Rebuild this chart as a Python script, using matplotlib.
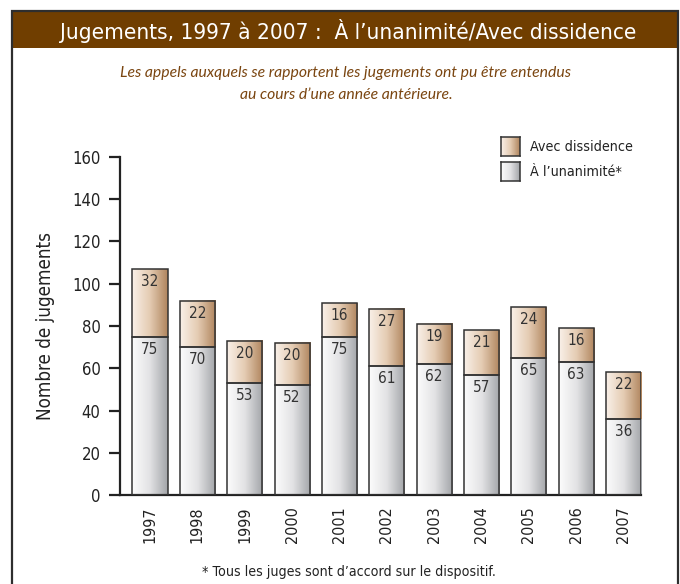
import numpy as np
import matplotlib
matplotlib.use("Agg")
import matplotlib.pyplot as plt
from matplotlib import font_manager
from matplotlib.patches import Rectangle

years = ["1997", "1998", "1999", "2000", "2001", "2002", "2003", "2004", "2005", "2006", "2007"]
unanimous = [75, 70, 53, 52, 75, 61, 62, 57, 65, 63, 36]
dissent = [32, 22, 20, 20, 16, 27, 19, 21, 24, 16, 22]
yticks = [0, 20, 40, 60, 80, 100, 120, 140, 160]

ttf = font_manager.fontManager.ttflist
names = {f.name for f in ttf}
has_cond = any(f.name == "DejaVu Sans" and f.stretch in ("condensed", 300) for f in ttf)
if "Liberation Sans Narrow" in names:
    NARROW, STRETCH = "Liberation Sans Narrow", "normal"
else:
    NARROW, STRETCH = "DejaVu Sans", ("condensed" if has_cond else "normal")
ITAL = "Lato" if "Lato" in names else "DejaVu Sans"
NF = dict(family=NARROW, fontstretch=STRETCH)

W, H = 680, 584
fig = plt.figure(figsize=(W / 100, H / 100), dpi=100)

def fx(px):
    return px / W

def fy(py):
    return 1 - py / H

# frame and header band
fig.patches.append(Rectangle((fx(12), fy(600)), fx(666), fy(11) - fy(600), transform=fig.transFigure,
                             facecolor="none", edgecolor="#2e2e2e", lw=1.6, zorder=5))
fig.patches.append(Rectangle((fx(13), fy(48)), fx(664), fy(12) - fy(48), transform=fig.transFigure,
                             facecolor="#703e00", edgecolor="none", zorder=1))

renderer = fig.canvas.get_renderer()

def fit(t, target_w):
    w = t.get_window_extent(renderer).width
    t.set_fontsize(t.get_fontsize() * target_w / w)

t = fig.text(fx(348), fy(31), "Jugements, 1997 à 2007 :  À l\u2019unanimité/Avec dissidence",
             ha="center", va="center", color="white", fontsize=17.5, **NF)
fit(t, 573)
t = fig.text(fx(346), fy(73), "Les appels auxquels se rapportent les jugements ont pu être entendus",
             ha="center", va="center", color="#7a4510", fontsize=10, family=ITAL, style="italic")
fit(t, 452)
fig.text(fx(346), fy(95), "au cours d\u2019une année antérieure.",
         ha="center", va="center", color="#7a4510", fontsize=t.get_fontsize(), family=ITAL, style="italic")
t = fig.text(fx(349), fy(572), "* Tous les juges sont d\u2019accord sur le dispositif.",
             ha="center", va="center", color="#222222", fontsize=10.5, **NF)
fit(t, 294)

ax = fig.add_axes([fx(120), fy(495), fx(641) - fx(120), fy(157) - fy(495)])
x = np.arange(len(years))
tan_cmap = matplotlib.colors.LinearSegmentedColormap.from_list("tan", ["#f9f0e8", "#e4cbb2", "#b0855e"])
gray_cmap = matplotlib.colors.LinearSegmentedColormap.from_list("gr", ["#fcfcfc", "#e2e2e4", "#a3a5a9"])
grad = np.linspace(0, 1, 64).reshape(1, -1)

b1 = ax.bar(x, unanimous, width=0.74, facecolor="none", edgecolor="#333333", lw=1.1, zorder=3)
b2 = ax.bar(x, dissent, bottom=unanimous, width=0.74, facecolor="none", edgecolor="#333333", lw=1.1, zorder=3)
for bars, cmap in ((b1, gray_cmap), (b2, tan_cmap)):
    for p in bars:
        x0, y0, w, h = p.get_x(), p.get_y(), p.get_width(), p.get_height()
        ax.imshow(grad, cmap=cmap, extent=(x0, x0 + w, y0, y0 + h), aspect="auto",
                  interpolation="bilinear", zorder=2)

for i in range(len(years)):
    ax.annotate(str(unanimous[i]), (x[i], unanimous[i]), xytext=(0, -9), textcoords="offset points",
                ha="center", va="center", fontsize=11, color="#333333", zorder=4, **NF)
    ax.annotate(str(dissent[i]), (x[i], unanimous[i] + dissent[i]), xytext=(0, -9),
                textcoords="offset points", ha="center", va="center", fontsize=11,
                color="#333333", zorder=4, **NF)

ax.set_xlim(-0.634, 10.37)
ax.set_ylim(0, 160)
ax.set_yticks(yticks)
ax.set_yticklabels([str(v) for v in yticks], fontsize=12, color="#222222", **NF)
ax.set_xticks(x)
ax.set_xticklabels(years, rotation=90, fontsize=11.5, color="#222222", **NF)
ax.tick_params(axis="x", length=0, pad=8)
ax.tick_params(axis="y", length=8, width=1.6, color="#222222", pad=6)
for s in ("top", "right"):
    ax.spines[s].set_visible(False)
for s in ("left", "bottom"):
    ax.spines[s].set_linewidth(1.6)
    ax.spines[s].set_color("#222222")
ax.set_ylabel("Nombre de jugements", fontsize=13.5, color="#222222", labelpad=12, **NF)
ax.patch.set_alpha(0)

# legend
for (label, cmap, top) in (("Avec dissidence", tan_cmap, 137), ("À l\u2019unanimité*", gray_cmap, 162)):
    lax = fig.add_axes([fx(501), fy(top + 19), fx(19), fy(top) - fy(top + 19)])
    lax.imshow(grad, cmap=cmap, aspect="auto", interpolation="bilinear")
    lax.set_xticks([])
    lax.set_yticks([])
    for s in lax.spines.values():
        s.set_color("#333333")
        s.set_linewidth(1.1)
    lt = fig.text(fx(530), fy(top + 10), label, ha="left", va="center", fontsize=11,
                  color="#222222", **NF)
    if top == 137:
        fit(lt, 102)
        legend_fs = lt.get_fontsize()
    else:
        lt.set_fontsize(legend_fs)

fig.savefig("out.png", dpi=100)
